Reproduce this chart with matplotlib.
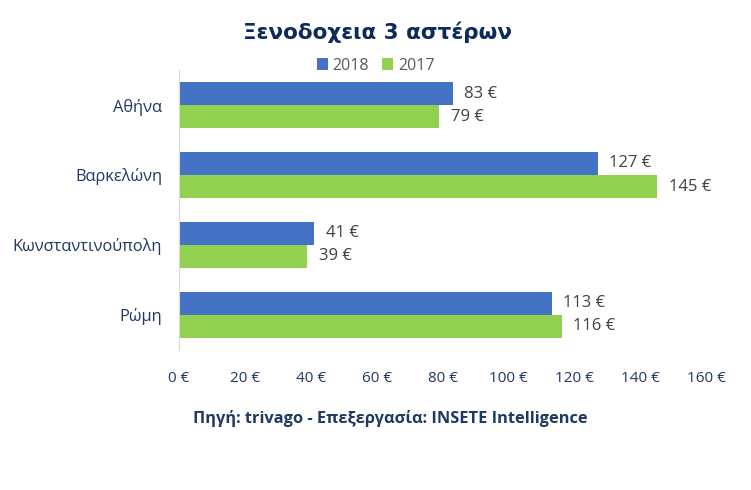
import matplotlib.pyplot as plt
import numpy as np

# Ξενοδοχεία 3 αστέρων - τιμές ανά πόλη (trivago)
cities = ['Αθήνα', 'Βαρκελώνη', 'Κωνσταντινούπολη', 'Ρώμη']
price_2018 = [83, 127, 41, 113]
price_2017 = [79, 145, 39, 116]
xticks = [0, 20, 40, 60, 80, 100, 120, 140, 160]

NAVY = '#1F3864'
BLUE = '#4472C4'
GREEN = '#92D050'
BAR_H = 0.33

plt.rcParams['font.family'] = ['Open Sans', 'DejaVu Sans']

fig = plt.figure(figsize=(7.51, 4.90), dpi=100)
ax = fig.add_axes([0.238, 0.286, 0.703, 0.571])

y = np.arange(len(cities))
b1 = ax.barh(y - BAR_H / 2, price_2018, height=BAR_H, color=BLUE, label='2018')
b2 = ax.barh(y + BAR_H / 2, price_2017, height=BAR_H, color=GREEN, label='2017')

for bars, vals in ((b1, price_2018), (b2, price_2017)):
    for bar, v in zip(bars, vals):
        ax.text(v + 3.5, bar.get_y() + bar.get_height() / 2, f'{v} €',
                va='center', ha='left', fontsize=12, color='#404040')

ax.set_ylim(3.5, -0.5)
ax.set_xlim(0, 160)
ax.set_yticks(y)
ax.set_yticklabels(cities, fontsize=11.8, color=NAVY)
ax.set_xticks(xticks)
ax.set_xticklabels([f'{t} €' for t in xticks], fontsize=11, color=NAVY)
ax.tick_params(length=0)
ax.tick_params(axis='y', pad=12)
ax.tick_params(axis='x', pad=15)

for s in ('top', 'right', 'bottom'):
    ax.spines[s].set_visible(False)
ax.spines['left'].set_color('#D9D9D9')

fig.text(0.503, 0.935, 'Ξενοδοχεια 3 αστέρων', ha='center', va='center',
         fontsize=15.5, fontweight='bold', color='#0E2A5C', family='DejaVu Sans')
fig.legend(handles=[b1, b2], loc='center', bbox_to_anchor=(0.50, 0.866), ncol=2,
           frameon=False, fontsize=11.5, handlelength=0.7, handleheight=0.7,
           handletextpad=0.3, columnspacing=0.8, labelcolor='#595959')
fig.text(0.52, 0.145, 'Πηγή: trivago - Επεξεργασία: INSETE Intelligence',
         ha='center', va='center', fontsize=11.8, fontweight='bold', color=NAVY)

fig.savefig('out.png', dpi=100)
